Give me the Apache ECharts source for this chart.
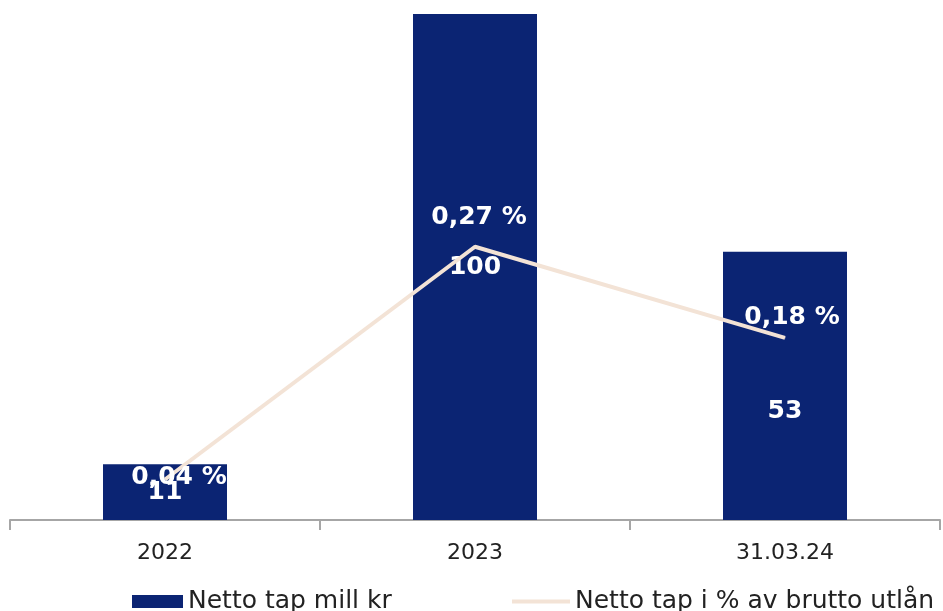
<!DOCTYPE html>
<html><head><meta charset="utf-8">
<script src="https://cdn.jsdelivr.net/npm/echarts@6/dist/echarts.min.js"></script>
<style>html,body{margin:0;padding:0;background:#fff}#c{width:943px;height:611px}</style>
</head><body><div id="c"></div>
<script>
const categories = ['2022', '2023', '31.03.24'];
const barName = 'Netto tap mill kr';
const lineName = 'Netto tap i % av brutto utlån';
const barValues = [11, 100, 53];
const lineValues = [0.04, 0.27, 0.18];

// label nudges (pixels) to match the reference placement
const barLabelOffsets = [[0, 0], [0, 0], [0, 26]];
const lineLabelOffsets = [[14, 27], [4, 0], [7, 9]];

const chart = echarts.init(document.getElementById('c'));
const NAVY = '#0B2473', BEIGE = '#F3E3D6';
chart.setOption({
  animation: false,
  backgroundColor: '#fff',
  grid: { left: 10, right: 3, top: 14, bottom: 91 },
  legend: [
    { data: [barName], left: 132, top: 589, padding: 0, itemWidth: 51, itemHeight: 13, icon: 'rect',
      textStyle: { fontFamily: 'DejaVu Sans', fontSize: 25, color: '#222' } },
    { data: [lineName], left: 512, top: 589, padding: 0, itemWidth: 58, itemHeight: 4, icon: 'rect',
      itemStyle: { color: BEIGE },
      textStyle: { fontFamily: 'DejaVu Sans', fontSize: 25, color: '#222' } }
  ],
  xAxis: {
    type: 'category', data: categories,
    axisLine: { lineStyle: { color: '#A6A6A6', width: 2 } },
    axisTick: { show: true, length: 10, lineStyle: { color: '#A6A6A6', width: 2 } },
    axisLabel: { fontFamily: 'DejaVu Sans', fontSize: 22, color: '#222', margin: 22 }
  },
  yAxis: [
    { type: 'value', min: 0, max: 100, show: false, splitLine: { show: false } },
    { type: 'value', min: 0, max: 0.5, show: false, splitLine: { show: false } }
  ],
  series: [
    {
      name: barName, type: 'bar', barWidth: '40%', yAxisIndex: 0,
      itemStyle: { color: NAVY },
      data: barValues,
      label: { show: true, position: 'inside', color: '#fff', fontFamily: 'DejaVu Sans',
        fontWeight: 'bold', fontSize: 25 },
      labelLayout: p => ({ dx: barLabelOffsets[p.dataIndex][0], dy: barLabelOffsets[p.dataIndex][1], hideOverlap: false }),
      z: 2
    },
    {
      name: lineName, type: 'line', yAxisIndex: 1,
      data: lineValues,
      symbol: 'circle', symbolSize: 1, showSymbol: true,
      lineStyle: { color: BEIGE, width: 4 }, itemStyle: { color: BEIGE },
      label: { show: true, position: 'top', distance: 16, color: '#fff', fontFamily: 'DejaVu Sans',
        fontWeight: 'bold', fontSize: 25,
        formatter: p => p.value.toFixed(2).replace('.', ',') + ' %' },
      labelLayout: p => ({ dx: lineLabelOffsets[p.dataIndex][0], dy: lineLabelOffsets[p.dataIndex][1], hideOverlap: false }),
      z: 3
    }
  ]
});
</script></body></html>
